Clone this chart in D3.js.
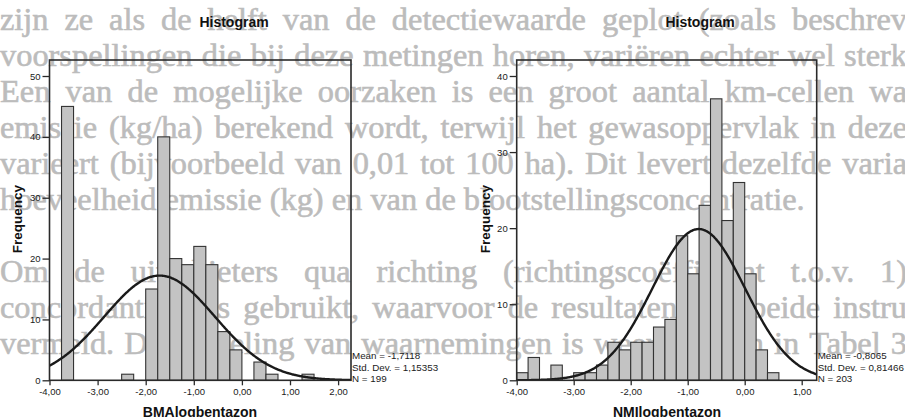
<!DOCTYPE html>
<html>
<head>
<meta charset="utf-8">
<script src="https://cdn.jsdelivr.net/npm/d3@7"></script>
<style>
  html, body { margin: 0; padding: 0; background: #ffffff; }
  svg { display: block; }
</style>
</head>
<body>
<svg id="chart" width="905" height="417"></svg>
<script>
// ---------------- DATA ----------------
// Background page text (scanned Dutch report)
const pageLines = [
  "zijn ze als de helft van de detectiewaarde geplot (zoals beschrev",
  "voorspellingen die bij deze metingen horen, variëren echter wel sterk",
  "Een van de mogelijke oorzaken is een groot aantal km-cellen wa",
  "emissie (kg/ha) berekend wordt, terwijl het gewasoppervlak in deze",
  "varieert (bijvoorbeeld van 0,01 tot 100 ha). Dit levert dezelfde varia",
  "hoeveelheid emissie (kg) en van de blootstellingsconcentratie.",
  "",
  "Om de uitschieters qua richting (richtingscoëfficiënt t.o.v. 1)",
  "concordantieplots gebruikt, waarvoor de resultaten van beide instru",
  "vermeld. De verdeling van waarnemingen is weergegeven in Tabel 3"
];
const pageLineJustified = [true, true, true, true, true, false, false, true, true, true];

// Left histogram: BMAlogbentazon (bin width 0.25)
const bmaBinStart = [-3.75, -2.5, -2.0, -1.75, -1.5, -1.25, -1.0, -0.75, -0.5, -0.25, 0.25, 0.5, 1.25];
const bmaCounts   = [45, 1, 15, 40, 20, 19, 22, 19, 8, 5, 3, 1, 1];
const bmaBinWidth = 0.25;
const bmaStats = { mean: -1.7118, sd: 1.15353, n: 199 };
const bmaStatLabels = ["Mean = -1,7118", "Std. Dev. = 1,15353", "N = 199"];
const bmaXTicks = [-4, -3, -2, -1, 0, 1, 2];
const bmaXTickLabels = ["-4,00", "-3,00", "-2,00", "-1,00", "0,00", "1,00", "2,00"];
const bmaYTicks = [0, 10, 20, 30, 40, 50];

// Right histogram: NMIlogbentazon (bin width 0.2)
const nmiBinStart = [-4.0, -3.8, -3.6, -3.4, -3.2, -3.0, -2.8, -2.6, -2.4, -2.2, -2.0, -1.8,
                     -1.6, -1.4, -1.2, -1.0, -0.8, -0.6, -0.4, -0.2, 0.0, 0.2, 0.4];
const nmiCounts   = [1, 3, 0, 2, 0, 1, 1, 2, 5, 4, 5, 5,
                     7, 8, 19, 14, 23, 37, 21, 26, 14, 4, 1];
const nmiBinWidth = 0.2;
const nmiStats = { mean: -0.8065, sd: 0.81466, n: 203 };
const nmiStatLabels = ["Mean = -0,8065", "Std. Dev. = 0,81466", "N = 203"];
const nmiXTicks = [-4, -3, -2, -1, 0, 1];
const nmiXTickLabels = ["-4,00", "-3,00", "-2,00", "-1,00", "0,00", "1,00"];
const nmiYTicks = [0, 10, 20, 30, 40];

const chartTitle = "Histogram";
const yAxisTitle = "Frequency";

// ---------------- DRAW ----------------
const svg = d3.select("#chart");

// background page text
const bg = svg.append("g").attr("class", "page-text")
  .attr("font-family", "'Liberation Serif', 'Times New Roman', serif")
  .attr("font-size", 30)
  .attr("fill", "#bcbcbc")
  .attr("stroke", "#bcbcbc")
  .attr("stroke-width", 0.6);

// size the font so the un-justified paragraph end line has the scanned width
const probe = bg.append("text").attr("x", 0).attr("y", -100).text(pageLines[5]);
const probeW = probe.node().getComputedTextLength();
probe.remove();
const pageFont = 30 * 805 / probeW;
bg.attr("font-size", pageFont);

const lineTop = 30, lineStep = 36, textX0 = 0, textX1 = 907;
pageLines.forEach((line, i) => {
  if (!line) return;
  const y = lineTop + i * lineStep;
  if (!pageLineJustified[i]) {
    bg.append("text").attr("x", textX0).attr("y", y).text(line);
    return;
  }
  const words = line.split(" ");
  const nodes = words.map(w => bg.append("text").attr("y", y).text(w));
  const widths = nodes.map(n => n.node().getComputedTextLength());
  const total = d3.sum(widths);
  const gap = Math.max(pageFont * 0.25, (textX1 - textX0 - total) / (words.length - 1));
  let x = textX0;
  nodes.forEach((n, k) => { n.attr("x", x); x += widths[k] + gap; });
});

function drawHistogram(cfg) {
  const g = svg.append("g");
  const { left, right, top, bottom } = cfg.box;

  const x = d3.scaleLinear().domain(cfg.xDomain).range([left, right]);
  const y = d3.scaleLinear().domain([0, cfg.yMaxAtTop]).range([bottom, top]);

  const clipId = "clip-" + cfg.id;
  svg.append("clipPath").attr("id", clipId)
    .append("rect").attr("x", left).attr("y", top)
    .attr("width", right - left).attr("height", bottom - top);

  // bars
  const bins = cfg.binStart.map((s, i) => ({ x0: s, x1: s + cfg.binWidth, c: cfg.counts[i] }))
    .filter(d => d.c > 0);
  g.append("g").selectAll("rect").data(bins).join("rect")
    .attr("x", d => x(d.x0))
    .attr("y", d => y(d.c))
    .attr("width", d => x(d.x1) - x(d.x0))
    .attr("height", d => y(0) - y(d.c))
    .attr("fill", "#c3c3c3")
    .attr("stroke", "#333333")
    .attr("stroke-width", 1.1);

  // normal curve
  const st = cfg.stats;
  const scaleF = st.n * cfg.binWidth / (st.sd * Math.sqrt(2 * Math.PI));
  const xs = d3.range(0, 401).map(k => cfg.xDomain[0] + (cfg.xDomain[1] - cfg.xDomain[0]) * k / 400);
  const line = d3.line()
    .x(v => x(v))
    .y(v => y(scaleF * Math.exp(-0.5 * Math.pow((v - st.mean) / st.sd, 2))))
    .curve(d3.curveBasis);
  g.append("path").datum(xs)
    .attr("d", line)
    .attr("fill", "none")
    .attr("stroke", "#1a1a1a")
    .attr("stroke-width", 2.4)
    .attr("clip-path", `url(#${clipId})`);

  // frame
  g.append("rect")
    .attr("x", left).attr("y", top)
    .attr("width", right - left).attr("height", bottom - top)
    .attr("fill", "none").attr("stroke", "#2a2a2a").attr("stroke-width", 1.6);

  // axes
  const xAxis = d3.axisBottom(x).tickValues(cfg.xTicks)
    .tickFormat((d, i) => cfg.xTickLabels[i]).tickSize(5).tickPadding(3);
  const gx = g.append("g").attr("transform", `translate(0,${bottom})`).call(xAxis);
  const yAxis = d3.axisLeft(y).tickValues(cfg.yTicks).tickSize(7).tickPadding(2);
  const gy = g.append("g").attr("transform", `translate(${left},0)`).call(yAxis);
  [gx, gy].forEach(a => {
    a.select(".domain").remove();
    a.selectAll("line").attr("stroke", "#2a2a2a").attr("stroke-width", 1.3);
    a.selectAll("text").attr("font-family", "'Liberation Sans', Arial, sans-serif")
      .attr("font-size", 9.5).attr("fill", "#1a1a1a");
  });

  // title
  g.append("text")
    .attr("x", cfg.titleX).attr("y", 27)
    .attr("text-anchor", "middle")
    .attr("font-family", "'Liberation Sans', Arial, sans-serif")
    .attr("font-weight", "bold").attr("font-size", 14).attr("fill", "#111")
    .text(chartTitle);

  // x axis title
  g.append("text")
    .attr("x", cfg.xTitleX).attr("y", 417)
    .attr("text-anchor", "middle")
    .attr("font-family", "'Liberation Sans', Arial, sans-serif")
    .attr("font-weight", "bold").attr("font-size", 14).attr("fill", "#111")
    .text(cfg.xTitle);

  // y axis title
  g.append("text")
    .attr("transform", `translate(${cfg.yTitleX},${219}) rotate(-90)`)
    .attr("text-anchor", "middle")
    .attr("font-family", "'Liberation Sans', Arial, sans-serif")
    .attr("font-weight", "bold").attr("font-size", 13.5).attr("fill", "#111")
    .text(yAxisTitle);

  // stats box
  cfg.statLabels.forEach((s, i) => {
    g.append("text")
      .attr("x", right + 1).attr("y", 359 + i * 11.5)
      .attr("font-family", "'Liberation Sans', Arial, sans-serif")
      .attr("font-size", 9.8).attr("fill", "#1a1a1a")
      .text(s);
  });
}

drawHistogram({
  id: "bma",
  box: { left: 49.5, right: 351, top: 60, bottom: 380.3 },
  xDomain: [-4, -4 + (351 - 49.5) / 48.1],
  yMaxAtTop: (380.3 - 60) / 6.086,
  binStart: bmaBinStart, counts: bmaCounts, binWidth: bmaBinWidth,
  stats: bmaStats, statLabels: bmaStatLabels,
  xTicks: bmaXTicks, xTickLabels: bmaXTickLabels, yTicks: bmaYTicks,
  titleX: 234, xTitleX: 200, yTitleX: 22, xTitle: "BMAlogbentazon"
});

drawHistogram({
  id: "nmi",
  box: { left: 516.7, right: 816.7, top: 60, bottom: 380.3 },
  xDomain: [-4, -4 + (816.7 - 516.7) / 57],
  yMaxAtTop: (380.3 - 60) / 7.6075,
  binStart: nmiBinStart, counts: nmiCounts, binWidth: nmiBinWidth,
  stats: nmiStats, statLabels: nmiStatLabels,
  xTicks: nmiXTicks, xTickLabels: nmiXTickLabels, yTicks: nmiYTicks,
  titleX: 700, xTitleX: 667, yTitleX: 490, xTitle: "NMIlogbentazon"
});
</script>
</body>
</html>
